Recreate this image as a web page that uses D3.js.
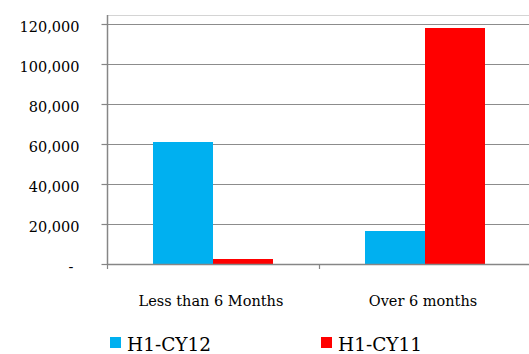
<!DOCTYPE html>
<html><head><meta charset="utf-8">
<script src="https://cdn.jsdelivr.net/npm/d3@7"></script>
<style>body{margin:0;background:#fff}svg{display:block}</style>
</head><body>
<svg id="c" width="529" height="354"></svg>
<script>
const categories = ["Less than 6 Months", "Over 6 months"];
const seriesNames = ["H1-CY12", "H1-CY11"];
const h1cy12 = [61000, 16500];
const h1cy11 = [2500, 118000];
const yTicks = [0, 20000, 40000, 60000, 80000, 100000, 120000];
const colors = ["#00B0F0", "#FF0000"];

const values = [h1cy12, h1cy11];
const svg = d3.select("#c");
const font = "'DejaVu Serif', serif";
const L = 107, R = 531, B = 264, T = 24, TOP = 15;

const y = d3.scaleLinear().domain([0, 120000]).range([B, T]);
const x = d3.scaleBand().domain(categories).range([L, R]);
const xs = d3.scaleBand().domain(seriesNames).range([46, 166]);

// top border
svg.append("line").attr("x1", L).attr("x2", R).attr("y1", TOP + 0.5).attr("y2", TOP + 0.5)
  .attr("stroke", "#d4d4d4").attr("stroke-width", 1);

// gridlines
svg.append("g").selectAll("line").data(yTicks.filter(d => d > 0)).join("line")
  .attr("x1", L).attr("x2", R)
  .attr("y1", d => Math.round(y(d)) + 0.5).attr("y2", d => Math.round(y(d)) + 0.5)
  .attr("stroke", "#8c8c8c").attr("stroke-width", 1.2);

// bars
const g = svg.append("g");
seriesNames.forEach((s, si) => {
  g.selectAll(null).data(categories).join("rect")
    .attr("x", (c) => x(c) + xs(s))
    .attr("width", xs.bandwidth())
    .attr("y", (c, i) => y(values[si][i]))
    .attr("height", (c, i) => B - y(values[si][i]))
    .attr("fill", colors[si]);
});

// y axis
const yAxis = d3.axisLeft(y).tickValues(yTicks).tickSize(6)
  .tickFormat(d => d === 0 ? "-" : d3.format(",")(d));
const ya = svg.append("g").attr("transform", `translate(${L + 0.5},0)`).call(yAxis);
ya.select(".domain").attr("d", `M0,${TOP}V${B}`).attr("stroke", "#868686").attr("stroke-width", 1.5);
ya.selectAll(".tick line").attr("stroke", "#868686").attr("stroke-width", 1.2);
ya.selectAll(".tick text").attr("x", -28).attr("dy", "0.5em")
  .style("font-family", font).style("font-size", "14.5px").attr("fill", "#000");
ya.selectAll(".tick text").filter(d => d === 0).attr("x", -34);

// x axis
svg.append("line").attr("x1", L).attr("x2", R).attr("y1", B + 0.5).attr("y2", B + 0.5)
  .attr("stroke", "#868686").attr("stroke-width", 1.5);
svg.append("g").selectAll("line").data(categories).join("line")
  .attr("x1", d => x(d) + 0.5).attr("x2", d => x(d) + 0.5)
  .attr("y1", B).attr("y2", B + 5)
  .attr("stroke", "#868686").attr("stroke-width", 1.2);

// category labels
svg.append("g").selectAll("text").data(categories).join("text")
  .attr("x", d => x(d) + x.bandwidth() / 2 - 2).attr("y", 305.5)
  .attr("text-anchor", "middle")
  .style("font-family", font).style("font-size", "14.5px").text(d => d);

// legend
const legX = [110, 321];
const lg = svg.append("g");
seriesNames.forEach((s, i) => {
  lg.append("rect").attr("x", legX[i]).attr("y", 337).attr("width", 11).attr("height", 11).attr("fill", colors[i]);
  lg.append("text").attr("x", legX[i] + 17).attr("y", 351)
    .style("font-family", font).style("font-size", "18.5px").text(s);
});
</script>
</body></html>
